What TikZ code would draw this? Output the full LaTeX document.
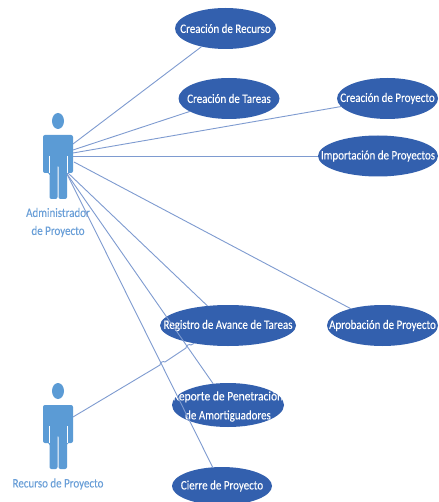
\documentclass[tikz,border=0pt]{standalone}
\usepackage{graphicx}
\usepackage{fontspec}
\setmainfont[FakeStretch=0.85,FakeBold=0.05]{Carlito}
\usetikzlibrary{shapes.geometric}
\definecolor{ucfill}{HTML}{3360AE}
\definecolor{actorblue}{HTML}{5B9BD5}
\definecolor{linkblue}{HTML}{7E9BD0}
\definecolor{labelblue}{HTML}{6A9FD8}
\tikzset{
  x=1pt,y=-1pt,
  usecase/.style={ellipse,fill=ucfill,inner sep=0pt,outer sep=0pt},
  uclabel/.style={text=white,inner sep=0pt,font=\fontsize{12.9}{19}\selectfont,align=center},
  link/.style={draw=linkblue,line width=0.9pt},
  actorlabel/.style={text=labelblue,inner sep=0pt,font=\fontsize{12.9}{18}\selectfont,align=center},
  actorpart/.style={fill=actorblue}
}
\newcommand{\actorshape}[2]{%
  \begin{scope}[shift={(#1,#2)}]
    \fill[actorpart] (0,-14) ellipse [x radius=6, y radius=8];
    \fill[actorpart,rounded corners=2pt] (-15,0) -- (15,0) -- (15,38) -- (9,38) -- (9,64) -- (0.5,64) -- (0.5,30) -- (-0.5,30) -- (-0.5,64) -- (-8.5,64) -- (-8.5,38) -- (-15,38) -- cycle;
    \draw[white,line width=0.5pt] (-8.5,21) -- (-8.5,38) (9,21) -- (9,38);
  \end{scope}}
\begin{document}
\begin{tikzpicture}
\useasboundingbox (0,0) rectangle (438,502);
\fill[white] (0,0) rectangle (438,502);
\node[usecase,minimum width=101pt,minimum height=41pt,label={[uclabel]center:Creación de Recurso}] (recurso) at (225.5,28.5) {};
\node[usecase,minimum width=101pt,minimum height=41pt,label={[uclabel]center:Creación de Tareas}] (tareas) at (229,98.5) {};
\node[usecase,minimum width=101pt,minimum height=41pt,label={[uclabel]center:Creación de Proyecto}] (proyecto) at (387.5,98.5) {};
\node[usecase,minimum width=120pt,minimum height=41pt,label={[uclabel]center:Importación de Proyectos}] (importacion) at (378,156) {};
\node[usecase,minimum width=136pt,minimum height=41pt,label={[uclabel]center:Registro de Avance de Tareas}] (registro) at (228,325.5) {};
\node[usecase,minimum width=111pt,minimum height=41pt,label={[uclabel]center:Aprobación de Proyecto}] (aprobacion) at (382.5,325.5) {};
\node[usecase,minimum width=112pt,minimum height=44pt,label={[uclabel,yshift=-1.5pt]center:\scalebox{1.05}[1]{Reporte de Penetración}\\de Amortiguadores}] (reporte) at (228,405) {};
\node[usecase,minimum width=100pt,minimum height=38pt,label={[uclabel]center:Cierre de Proyecto}] (cierre) at (222,486) {};

\actorshape{58}{135}
\actorshape{58}{405}
\node[actorlabel] (admin) at (58,222.5) {Administrador\\de Proyecto};
\node[actorlabel] (recursolabel) at (58,484) {Recurso de Proyecto};

\coordinate (a1) at (73,144);
\coordinate (a2) at (73,150);
\coordinate (a3) at (73,153);
\coordinate (a4) at (73,156);
\coordinate (a5) at (74,162);
\coordinate (a6) at (68,173);
\coordinate (a7) at (67,174);
\coordinate (a8) at (67,174);
\coordinate (r1) at (73,417);

\draw[link] (a1) -- (recurso);
\draw[link] (a2) -- (tareas);
\draw[link] (a3) -- (proyecto);
\draw[link] (a4) -- (importacion);
\draw[link] (a5) -- (aprobacion);
\draw[link] (a6) -- (registro);
\draw[link] (a7) -- (reporte);
\draw[link] (a8) -- (cierre);
\coordinate (h1a) at (160,365);
\coordinate (h1b) at (165,362);
\coordinate (h2a) at (186,348);
\coordinate (h2b) at (191,345);
\draw[link] (r1) -- (h1a) to[bend left=70] (h1b) -- (h2a) to[bend left=70] (h2b) -- (registro);
\end{tikzpicture}
\end{document}
